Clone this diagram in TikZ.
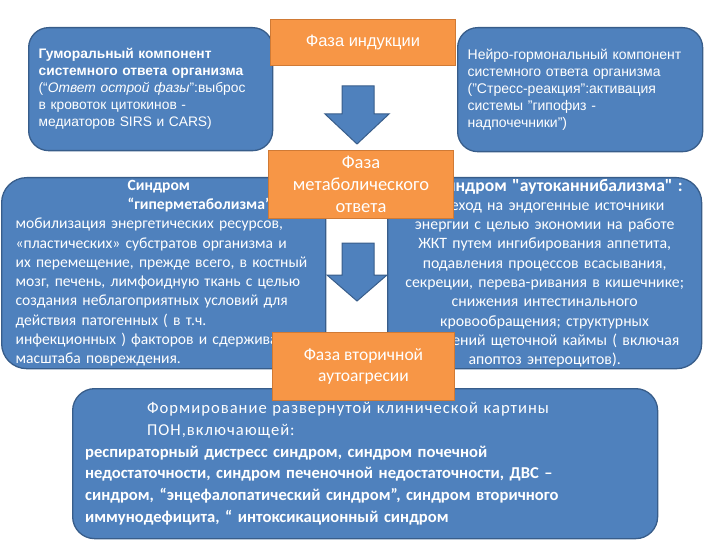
\documentclass[tikz,border=0pt]{standalone}
\usepackage{fontspec}
\setmainfont{Liberation Sans}
\newfontfamily\calibri{Carlito}
\usetikzlibrary{positioning}
\definecolor{boxblue}{HTML}{4F81BD}
\definecolor{boxedge}{HTML}{385D8A}
\definecolor{phaseorange}{HTML}{F79646}
\definecolor{phaseedge}{HTML}{D07A35}
\tikzset{
    bluebox/.style={draw=boxedge,fill=boxblue,line width=1.3pt,
        rounded corners=20pt,text=white,inner sep=0pt,anchor=north west},
    phase/.style={draw=phaseedge,fill=phaseorange,line width=1pt,
        text=white,align=center,inner sep=0pt,anchor=north west},
    blockarrow/.style={draw=boxedge,fill=boxblue,line width=1pt,line join=miter}}

\begin{document}
\begin{tikzpicture}[x=1pt,y=-1pt]
\useasboundingbox (0,0) rectangle (720,540);

% upper row
\node[bluebox, minimum width=244, minimum height=123, text width=224, align=left,
      font=\fontsize{13.8}{17}\selectfont] (humoral) at (28,27)
  {\textbf{Гуморальный компонент}\\
   \textbf{системного ответа организма}\\
   (“\textit{Ответ острой фазы}”:выброс\\
   в кровоток  цитокинов -\\
   медиаторов SIRS и  CARS)};
\node[bluebox, minimum width=245, minimum height=124, text width=225, align=left,
      font=\fontsize{14}{17}\selectfont] (neuro) at (457,27)
  {Нейро-гормональный компонент\\
   системного ответа организма\\
   ("Стресс-реакция":активация\\
   системы "гипофиз -\\
   надпочечники")};
\node[phase, minimum width=185, minimum height=46,
      font=\fontsize{16.5}{18}\selectfont] (induction) at (270,19) {Фаза индукции};

\draw[blockarrow] (342,86) -- (374,86) -- (374,114) -- (389,114) -- (357,144)
    -- (325,114) -- (342,114) -- cycle;

% middle row
\node[bluebox, rounded corners=25pt, minimum width=324, minimum height=191, text width=296,
      align=left, font=\calibri\fontsize{15.6}{19.3}\selectfont] (hyper) at (1,177)
  {\hspace*{112pt}\textbf{Синдром}\\
   \hspace*{112pt}\textbf{“гиперметаболизма”}\\
   мобилизация энергетических ресурсов,\\
   «пластических» субстратов  организма и\\
   их перемещение, прежде всего, в костный\\
   мозг, печень, лимфоидную ткань с целью\\
   создания неблагоприятных условий для\\
   действия  патогенных ( в т.ч.\\
   инфекционных ) факторов и  сдерживания\\
   масштаба повреждения.};
\node[bluebox, rounded corners=25pt, minimum width=314, minimum height=191, text width=306,
      align=center, font=\calibri\fontsize{15.8}{19.3}\selectfont] (autocann) at (387,177)
  {\hspace*{30pt}{\fontsize{17.6}{19.3}\selectfont\textbf{Синдром "аутоканнибализма" :}}\\
   Переход на эндогенные источники\\
   энергии   с целью экономии на работе\\
   ЖКТ путем ингибирования аппетита,\\
   подавления процессов всасывания,\\
   секреции, перева-ривания в кишечнике;\\
   снижения интестинального\\
   кровообращения; структурных\\
   изменений щеточной каймы    ( включая\\
   апоптоз энтероцитов).};

\draw[blockarrow] (342,243) -- (374,243) -- (374,275) -- (387,275) -- (357,301)
    -- (327,275) -- (342,275) -- cycle;

% lower row
\node[bluebox, rounded corners=22pt, minimum width=585, minimum height=150, text width=560,
      align=left, font=\calibri\fontsize{16.6}{21.8}\selectfont] (clinic) at (72,388)
  {\hspace*{62pt}{\addfontfeature{LetterSpace=6}Формирование развернутой клинической картины}\\
   \hspace*{62pt}{\addfontfeature{LetterSpace=6}ПОН,включающей:}\\
   \textbf{респираторный дистресс синдром, синдром  почечной}\\
   \textbf{недостаточности, синдром печеночной  недостаточности, ДВС –}\\
   \textbf{синдром, “энцефалопатический синдром”, синдром вторичного}\\
   \textbf{иммунодефицита, “ интоксикационный синдром}};

% phases on top
\node[phase, minimum width=185, minimum height=68,
      font=\calibri\fontsize{18.5}{22}\selectfont] (metabolic) at (268,150)
  {Фаза\\ метаболического\\ ответа};
\node[phase, minimum width=182, minimum height=68,
      font=\calibri\fontsize{17.5}{20.5}\selectfont] (autoaggr) at (272,332)
  {Фаза вторичной\\ аутоагресии};
\end{tikzpicture}
\end{document}
